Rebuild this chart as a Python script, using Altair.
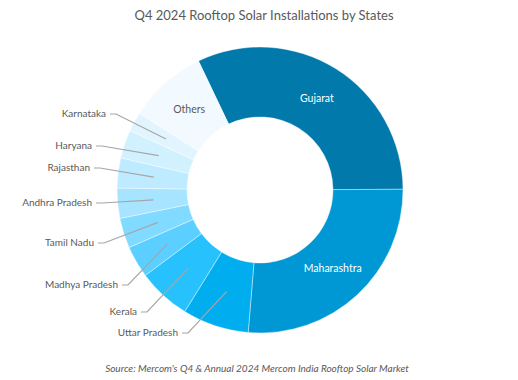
import math
import altair as alt
import pandas as pd

# ---- data (share of Q4 2024 rooftop solar installations, %) ----
states = ["Gujarat", "Maharashtra", "Uttar Pradesh", "Kerala", "Madhya Pradesh",
          "Tamil Nadu", "Andhra Pradesh", "Rajasthan", "Haryana", "Karnataka", "Others"]
shares = [32.0, 26.4, 7.5, 6.0, 3.6, 3.4, 3.4, 3.4, 3.2, 2.2, 8.9]

colors = ["#0179AB", "#0098D4", "#00AEEF", "#27C2FD", "#5BCFFF", "#81DAFF",
          "#A6E4FF", "#BEEBFF", "#D1F1FF", "#E2F5FF", "#F3FAFF"]

title_text = "Q4 2024 Rooftop Solar Installations by States"
source_text = "Source: Mercom's Q4 & Annual 2024 Mercom India Rooftop Solar Market"

# ---- layout ----
W, H = 502, 372
CX, CY = 252, 182
R_OUT, R_IN = 143, 73
R_LAB = 107
START = math.radians(-25.5)
FONT = "Lato"
GREY = "#595959"

# outside-label anchors (text right edge, baseline middle) - layout only
outside = ["Karnataka", "Haryana", "Rajasthan", "Andhra Pradesh", "Tamil Nadu",
           "Madhya Pradesh", "Kerala", "Uttar Pradesh"]
anchor_x = [98, 84, 82, 84, 86, 110, 129, 170]
anchor_y = [106, 138, 160, 195, 235, 277, 304, 325]

df = pd.DataFrame({"state": states, "value": shares, "idx": list(range(len(states)))})
df["white_label"] = [s if s in ("Gujarat", "Maharashtra") else "" for s in states]
df["grey_label"] = [s if s == "Others" else "" for s in states]

# leader-line geometry derived from the slice mid-angles
total = sum(shares)
cum = 0.0
mid = {}
for s, v in zip(states, shares):
    a = START + 2 * math.pi * (cum + v / 2) / total
    mid[s] = a
    cum += v

rows = []
lab_rows = []
for s, ax, ay in zip(outside, anchor_x, anchor_y):
    a = mid[s]
    px = CX + R_LAB * math.sin(a)
    py = CY - R_LAB * math.cos(a)
    rows.append({"state": s, "o": 0, "x": ax + 4, "y": ay})
    rows.append({"state": s, "o": 1, "x": ax + 10, "y": ay})
    rows.append({"state": s, "o": 2, "x": px, "y": py})
    lab_rows.append({"state": s, "x": ax, "y": ay})
lines_df = pd.DataFrame(rows)
labs_df = pd.DataFrame(lab_rows)

theta_scale = alt.Scale(range=[START, START + 2 * math.pi])
theta = alt.Theta("value:Q", stack=True, scale=theta_scale)
order = alt.Order("idx:Q")

base = alt.Chart(df).encode(theta=theta, order=order,
                            x=alt.value(CX), y=alt.value(CY))

arcs = base.mark_arc(outerRadius=R_OUT, innerRadius=R_IN, stroke="white",
                     strokeWidth=0.4).encode(
    color=alt.Color("state:N", scale=alt.Scale(domain=states, range=colors), legend=None)
)
white_txt = base.mark_text(radius=R_LAB, font=FONT, fontSize=10.5, color="white").encode(
    text="white_label:N")
grey_txt = base.mark_text(radius=R_LAB, font=FONT, fontSize=10.5, color=GREY).encode(
    text="grey_label:N")

xs = alt.Scale(domain=[0, W], range=[0, W])
ys = alt.Scale(domain=[0, H], range=[0, H])

leaders = alt.Chart(lines_df).mark_line(color="#A6A6A6", strokeWidth=1.2).encode(
    x=alt.X("x:Q", scale=xs, axis=None),
    y=alt.Y("y:Q", scale=ys, axis=None),
    detail="state:N",
    order="o:Q",
)
out_txt = alt.Chart(labs_df).mark_text(align="right", baseline="middle", font=FONT,
                                       fontSize=10, color=GREY).encode(
    x=alt.X("x:Q", scale=xs, axis=None),
    y=alt.Y("y:Q", scale=ys, axis=None),
    text="state:N",
)

title = alt.Chart(pd.DataFrame({"t": [title_text]})).mark_text(
    font=FONT, fontSize=13, color=GREY, align="center", baseline="middle").encode(
    x=alt.value(256), y=alt.value(8), text="t:N")
source = alt.Chart(pd.DataFrame({"t": [source_text]})).mark_text(
    font=FONT, fontSize=10, fontStyle="italic", color=GREY, align="center",
    baseline="middle").encode(x=alt.value(249), y=alt.value(361), text="t:N")

chart = alt.layer(arcs, white_txt, grey_txt, leaders, out_txt, title, source).properties(
    width=W, height=H, autosize=alt.AutoSizeParams(type="none"), padding=0
).configure_view(stroke=None)

chart.save("out.html", embed_options={"renderer": "svg", "actions": False})
